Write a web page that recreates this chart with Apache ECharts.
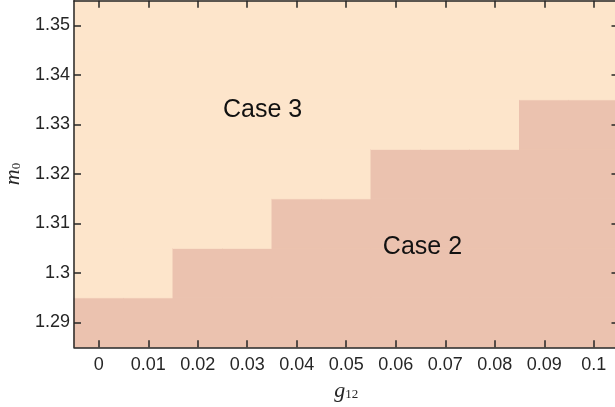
<!DOCTYPE html>
<html>
<head>
<meta charset="utf-8">
<script src="https://cdn.jsdelivr.net/npm/echarts@6/dist/echarts.min.js"></script>
<style>
html,body{margin:0;padding:0;background:#fff;}
#chart{width:615px;height:407px;}
</style>
</head>
<body>
<div id="chart"></div>
<script>
// ---- data ----
const gTicks = [0, 0.01, 0.02, 0.03, 0.04, 0.05, 0.06, 0.07, 0.08, 0.09, 0.1];
const mTicks = [1.29, 1.3, 1.31, 1.32, 1.33, 1.34, 1.35];
const gCells = [0, 0.01, 0.02, 0.03, 0.04, 0.05, 0.06, 0.07, 0.08, 0.09, 0.1];
const mCells = [1.29, 1.3, 1.31, 1.32, 1.33, 1.34, 1.35];
// highest m0 that is still "Case 2" for each g12 column
const case2Top = [1.29, 1.29, 1.3, 1.3, 1.31, 1.31, 1.32, 1.32, 1.32, 1.33, 1.33];
const caseNames = ['Case 3', 'Case 2'];
const caseNameG = [0.0331, 0.0654];
const caseNameM = [1.3329, 1.3052];

// ---- build ----
const cells = [];
gCells.forEach((g, i) => {
  mCells.forEach((m) => {
    cells.push([g, m, m <= case2Top[i] + 1e-9 ? 2 : 3]);
  });
});
const halfG = (gCells[1] - gCells[0]) / 2;
const halfM = (mCells[1] - mCells[0]) / 2;
const caseColors = {2: '#EBC2AF', 3: '#FDE5CB'};
const labelData = caseNames.map((n, i) => [caseNameG[i], caseNameM[i], n]);

const axisColor = '#262626';
const font = '"Liberation Sans", Arial, Helvetica, sans-serif';
const serif = '"Liberation Serif", "DejaVu Serif", serif';

const chart = echarts.init(document.getElementById('chart'), null, {renderer: 'canvas'});

const commonTick = {show: true, inside: true, length: 7, lineStyle: {color: axisColor, width: 1.5}};
const commonLine = {show: true, onZero: false, lineStyle: {color: axisColor, width: 1.5}};

const nameRich = {
  i: {fontFamily: serif, fontStyle: 'italic', fontSize: 22, color: axisColor},
  s: {fontFamily: serif, fontSize: 13, color: axisColor, padding: [7, 0, 0, 0]}
};

chart.setOption({
  animation: false,
  backgroundColor: '#fff',
  grid: {left: 74, top: 0.75, width: 544.5, height: 346.5, containLabel: false, outerBoundsMode: 'none'},
  xAxis: [{
    type: 'value', position: 'bottom', min: gCells[0] - halfG, max: gCells[gCells.length - 1] + halfG,
    z: 10,
    axisLine: commonLine,
    axisTick: Object.assign({customValues: gTicks}, commonTick),
    axisLabel: {customValues: gTicks, color: axisColor, fontSize: 18, fontFamily: font, margin: 9},
    splitLine: {show: false},
    name: '{i|g}{s|12}',
    nameLocation: 'middle', nameGap: 33,
    nameTextStyle: {rich: nameRich}
  }, {
    type: 'value', position: 'top', min: gCells[0] - halfG, max: gCells[gCells.length - 1] + halfG,
    z: 10,
    axisLine: commonLine,
    axisTick: Object.assign({customValues: gTicks}, commonTick),
    axisLabel: {show: false},
    splitLine: {show: false}
  }],
  yAxis: [{
    type: 'value', position: 'left', min: mCells[0] - halfM, max: mCells[mCells.length - 1] + halfM,
    z: 10,
    axisLine: commonLine,
    axisTick: Object.assign({customValues: mTicks}, commonTick),
    axisLabel: {customValues: mTicks, color: axisColor, fontSize: 18, fontFamily: font, margin: 4},
    splitLine: {show: false},
    name: '{i|m}{s|0}',
    nameLocation: 'middle', nameGap: 43, nameRotate: 90,
    nameTextStyle: {rich: nameRich}
  }, {
    type: 'value', position: 'right', min: mCells[0] - halfM, max: mCells[mCells.length - 1] + halfM,
    z: 10,
    axisLine: commonLine,
    axisTick: Object.assign({customValues: mTicks}, commonTick),
    axisLabel: {show: false},
    splitLine: {show: false}
  }],
  series: [{
    type: 'custom',
    xAxisIndex: 0, yAxisIndex: 0,
    z: 1,
    data: cells,
    renderItem: function (params, api) {
      const g = api.value(0), m = api.value(1), c = api.value(2);
      const p1 = api.coord([g - halfG, m + halfM]);
      const p2 = api.coord([g + halfG, m - halfM]);
      const col = caseColors[c];
      return {
        type: 'rect',
        shape: {x: p1[0], y: p1[1], width: p2[0] - p1[0], height: p2[1] - p1[1]},
        style: {fill: col, stroke: col, lineWidth: 1}
      };
    }
  }, {
    type: 'custom',
    xAxisIndex: 0, yAxisIndex: 0,
    z: 3,
    data: labelData,
    renderItem: function (params, api) {
      const p = api.coord([api.value(0), api.value(1)]);
      return {
        type: 'text',
        x: p[0], y: p[1],
        style: {text: labelData[params.dataIndex][2], fontSize: 25, fontFamily: font, fill: '#111', align: 'center', verticalAlign: 'middle'}
      };
    }
  }]
});
</script>
</body>
</html>
